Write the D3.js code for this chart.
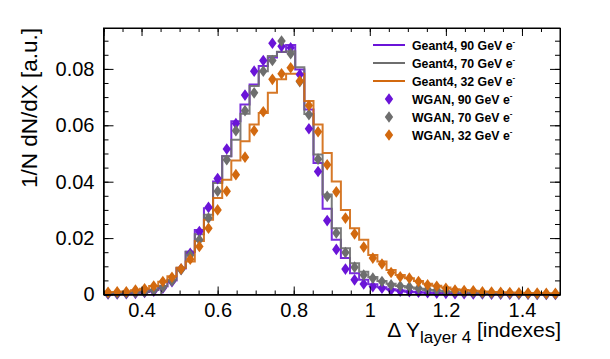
<!DOCTYPE html>
<html>
<head>
<meta charset="utf-8">
<script src="https://cdn.jsdelivr.net/npm/d3@7"></script>
<style>
body{margin:0;background:#fff;}
svg{display:block;font-family:"Liberation Sans",Arial,Helvetica,sans-serif;}
.axis path,.axis line{stroke:#000;stroke-width:1;}
.axis text{font-size:20px;fill:#000;}
</style>
</head>
<body>
<div id="chart"></div>
<script>
// bins: 50 bins from 0.3 to 1.5
let xMin=0.3, xMax=1.5, nBins=50;

let g4_90=[0.0003,0.0003,0.0004,0.0006,0.0009,0.0016,0.0028,0.0050,0.0092,0.0152,
0.0229,0.0306,0.0401,0.0490,0.0614,0.0674,0.0745,0.0810,0.0840,0.0860,
0.0885,0.0798,0.0656,0.0466,0.0304,0.0194,0.0129,0.0075,0.0052,0.0036,
0.0026,0.0019,0.0014,0.0010,0.0008,0.0006,0.0005,0.0004,0.0003,0.0003,
0.0002,0.0002,0.0002,0.0001,0.0001,0.0001,0.0001,0.0001,0.0001,0.0001];

let g4_70=[0.0004,0.0004,0.0005,0.0007,0.0010,0.0017,0.0030,0.0052,0.0095,0.0152,
0.0214,0.0283,0.0395,0.0490,0.0549,0.0641,0.0739,0.0792,0.0846,0.0861,
0.0863,0.0806,0.0640,0.0496,0.0355,0.0235,0.0164,0.0111,0.0081,0.0062,
0.0048,0.0038,0.0030,0.0025,0.0020,0.0016,0.0013,0.0010,0.0008,0.0007,
0.0005,0.0004,0.0003,0.0003,0.0002,0.0002,0.0002,0.0001,0.0001,0.0001];

let g4_32=[0.0008,0.0009,0.0011,0.0015,0.0020,0.0030,0.0045,0.0065,0.0095,0.0117,
0.0190,0.0265,0.0342,0.0407,0.0475,0.0543,0.0603,0.0644,0.0715,0.0763,
0.0783,0.0783,0.0686,0.0603,0.0502,0.0401,0.0300,0.0235,0.0194,0.0140,
0.0117,0.0087,0.0069,0.0058,0.0048,0.0038,0.0031,0.0025,0.0019,0.0016,
0.0013,0.0011,0.0009,0.0008,0.0007,0.0006,0.0005,0.0005,0.0004,0.0004];

let wgan_90=[0.0002,0.0002,0.0003,0.0004,0.0007,0.0012,0.0022,0.0045,0.0090,0.0146,
0.0223,0.0309,0.0411,0.0516,0.0606,0.0707,0.0792,0.0830,0.0891,0.0880,
0.0875,0.0780,0.0588,0.0436,0.0262,0.0160,0.0090,0.0052,0.0037,0.0028,
0.0022,0.0016,0.0012,0.0010,0.0008,0.0006,0.0005,0.0004,0.0003,0.0003,
0.0002,0.0002,0.0001,0.0001,0.0001,0.0001,0.0001,0.0000,0.0000,0.0000];

let wgan_70=[0.0004,0.0004,0.0005,0.0006,0.0009,0.0015,0.0025,0.0048,0.0088,0.0140,
0.0194,0.0271,0.0366,0.0478,0.0581,0.0652,0.0715,0.0792,0.0830,0.0899,
0.0854,0.0755,0.0638,0.0480,0.0348,0.0218,0.0149,0.0097,0.0069,0.0058,
0.0046,0.0034,0.0030,0.0027,0.0022,0.0019,0.0016,0.0012,0.0010,0.0008,
0.0007,0.0005,0.0004,0.0003,0.0003,0.0002,0.0002,0.0001,0.0001,0.0001];

let wgan_32=[0.0008,0.0010,0.0010,0.0016,0.0020,0.0030,0.0046,0.0061,0.0091,0.0125,
0.0170,0.0235,0.0300,0.0366,0.0425,0.0487,0.0581,0.0648,0.0763,0.0783,
0.0804,0.0757,0.0670,0.0577,0.0460,0.0364,0.0271,0.0215,0.0168,0.0129,
0.0108,0.0078,0.0063,0.0058,0.0046,0.0034,0.0029,0.0022,0.0016,0.0014,
0.0013,0.0010,0.0009,0.0008,0.0007,0.0006,0.0005,0.0005,0.0004,0.0004];

let xTicks=[0.4,0.6,0.8,1.0,1.2,1.4];
let yTicks=[0,0.02,0.04,0.06,0.08];

let purple='#6a14d8', gray='#6e6e6e', orange='#d2690f';

let W=610,H=359;
let pLeft=103.5,pRight=560,pTop=28,pBottom=294.5;

let svg=d3.select('#chart').append('svg').attr('width',W).attr('height',H);

let x=d3.scaleLinear().domain([xMin,xMax]).range([pLeft,pRight]);
let y=d3.scaleLinear().domain([0,0.0945]).range([pBottom,pTop]);

let bw=(xMax-xMin)/nBins;
let edges=d3.range(nBins+1).map(i=>xMin+i*bw);
let centers=d3.range(nBins).map(i=>xMin+(i+0.5)*bw);

// histograms (steps)
let step=d3.line().x(d=>x(d[0])).y(d=>y(d[1])).curve(d3.curveStepAfter);
function hist(vals,col){
    let pts=vals.map((v,i)=>[edges[i],v]);
    pts.push([edges[nBins],vals[nBins-1]]);
    svg.append('path').datum(pts).attr('d',step)
    .attr('fill','none').attr('stroke',col).attr('stroke-width',2).attr('stroke-opacity',0.9);
}
hist(g4_90,purple);
hist(g4_70,gray);
hist(g4_32,orange);

// diamonds
let diamond='M0,-5.8L4.2,0L0,5.8L-4.2,0Z';
function markers(vals,col){
    svg.append('g').selectAll('path').data(vals).join('path')
    .attr('d',diamond)
    .attr('transform',(d,i)=>'translate('+x(centers[i])+','+y(d)+')')
    .attr('fill',col);
}
markers(wgan_90,purple);
markers(wgan_70,gray);
markers(wgan_32,orange);

// axes
let xMinor=d3.range(0.3,1.5001,0.05).map(d=>+d.toFixed(2));
let yMinor=d3.range(0,0.0901,0.005).map(d=>+d.toFixed(3));

let xFmt=d=>String(+d.toFixed(1));
let yFmt=d=>d===0?'0':d3.format('.2f')(d);

svg.append('g').attr('class','axis').attr('transform','translate(0,'+pBottom+')')
.call(d3.axisBottom(x).tickValues(xMinor).tickSize(-4).tickFormat(''));
svg.append('g').attr('class','axis').attr('transform','translate(0,'+pBottom+')')
.call(d3.axisBottom(x).tickValues(xTicks).tickSizeInner(-8).tickSizeOuter(0).tickPadding(8).tickFormat(xFmt));

svg.append('g').attr('class','axis').attr('transform','translate(0,'+pTop+')')
.call(d3.axisTop(x).tickValues(xMinor).tickSize(-4).tickFormat(''));
svg.append('g').attr('class','axis').attr('transform','translate(0,'+pTop+')')
.call(d3.axisTop(x).tickValues(xTicks).tickSize(-8).tickFormat(''));

svg.append('g').attr('class','axis').attr('transform','translate('+pLeft+',0)')
.call(d3.axisLeft(y).tickValues(yMinor).tickSize(-5).tickFormat(''));
svg.append('g').attr('class','axis').attr('transform','translate('+pLeft+',0)')
.call(d3.axisLeft(y).tickValues(yTicks).tickSizeInner(-10).tickSizeOuter(0).tickPadding(9).tickFormat(yFmt));

svg.append('g').attr('class','axis').attr('transform','translate('+pRight+',0)')
.call(d3.axisRight(y).tickValues(yMinor).tickSize(-5).tickFormat(''));
svg.append('g').attr('class','axis').attr('transform','translate('+pRight+',0)')
.call(d3.axisRight(y).tickValues(yTicks).tickSize(-10).tickFormat(''));

// frame
svg.append('rect').attr('x',pLeft).attr('y',pTop).attr('width',pRight-pLeft).attr('height',pBottom-pTop)
.attr('fill','none').attr('stroke','#000').attr('stroke-width',1);

// axis titles
svg.append('text').attr('transform','translate(36.5,'+pTop+') rotate(-90)')
.attr('text-anchor','end').attr('font-size',22.5).text('1/N dN/dX [a.u.]');

let xt=svg.append('text').attr('x',561).attr('y',337).attr('text-anchor','end').attr('font-size',21);
xt.append('tspan').text('\u0394 Y');
xt.append('tspan').attr('font-size',17).attr('dy',6).text('layer 4');
xt.append('tspan').attr('dy',-6).text(' [indexes]');

// legend
let legLines=[['Geant4, 90 GeV e',purple],['Geant4, 70 GeV e',gray],['Geant4, 32 GeV e',orange]];
let legMarks=[['WGAN, 90 GeV e',purple],['WGAN, 70 GeV e',gray],['WGAN, 32 GeV e',orange]];
let legY=45, legDy=18;
legLines.forEach((d,i)=>{
    let yy=legY+i*legDy;
    svg.append('line').attr('x1',373).attr('x2',405).attr('y1',yy).attr('y2',yy)
    .attr('stroke',d[1]).attr('stroke-width',2);
    let t=svg.append('text').attr('x',412).attr('y',yy+4.5).attr('font-size',12.3).attr('font-weight','bold').text(d[0]);
    t.append('tspan').attr('font-size',8).attr('dy',-6).text('-');
});
legMarks.forEach((d,i)=>{
    let yy=legY+(i+3)*legDy;
    svg.append('path').attr('d',diamond).attr('transform','translate(389,'+yy+')').attr('fill',d[1]);
    let t=svg.append('text').attr('x',412).attr('y',yy+4.5).attr('font-size',12.3).attr('font-weight','bold').text(d[0]);
    t.append('tspan').attr('font-size',8).attr('dy',-6).text('-');
});
</script>
</body>
</html>
